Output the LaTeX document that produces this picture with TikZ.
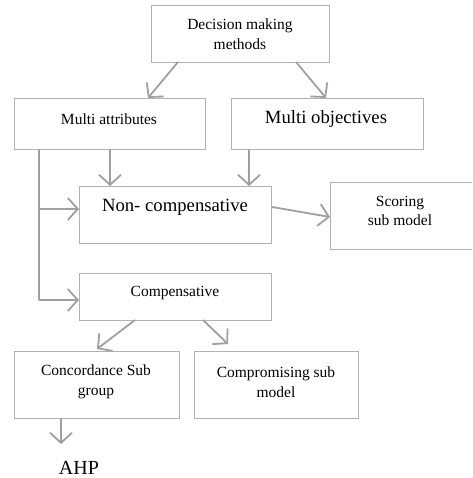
\documentclass[tikz,border=0pt]{standalone}
\usepackage{fontspec}
\setmainfont{Liberation Serif}
\usetikzlibrary{arrows.meta}
\definecolor{boxline}{RGB}{178,178,178}
\definecolor{arrowline}{RGB}{160,160,160}
\tikzset{
  box/.style={draw=boxline, line width=1pt, rectangle, inner sep=0pt, anchor=north west},
  txt/.style={font=\fontsize{15.5}{19.5}\selectfont, align=center, inner sep=0pt},
  txtbig/.style={font=\fontsize{18.7}{22}\selectfont, align=center, inner sep=0pt},
  link/.style={draw=arrowline, line width=1.8pt, -{Straight Barb[length=10pt,width=22pt,line width=1.8pt]}},
  plain/.style={draw=arrowline, line width=1.8pt},
}
\begin{document}
\begin{tikzpicture}[x=1pt,y=-1pt]
\clip (0,0) rectangle (472,478);
\fill[white] (0,0) rectangle (472,478);

% boxes
\node[box, minimum width=178pt, minimum height=57pt] (dm) at (151,5) {};
\node[box, minimum width=191pt, minimum height=51pt] (ma) at (14,98) {};
\node[box, minimum width=192pt, minimum height=51pt] (mo) at (231,98) {};
\node[box, minimum width=192pt, minimum height=57pt] (nc) at (79,186) {};
\node[box, minimum width=160pt, minimum height=67pt] (sc) at (330,182) {};
\node[box, minimum width=192pt, minimum height=47pt] (cp) at (79,273) {};
\node[box, minimum width=165pt, minimum height=67pt] (cg) at (14,351) {};
\node[box, minimum width=164pt, minimum height=67pt] (cm) at (194,351) {};

% labels
\node[txt] (dmt) at (240,34) {Decision making\\methods};
\node[txt] (mat) at (109,119) {Multi attributes};
\node[txtbig] (mot) at (326,119) {Multi objectives};
\node[txtbig] (nct) at (175,207) {Non- compensative};
\node[txt] (sct) at (400,211) {Scoring\\sub model};
\node[txt] (cpt) at (175,293) {Compensative};
\node[txt] (cgt) at (96,382) {Concordance Sub\\group};
\node[txt] (cmt) at (276,382) {Compromising sub\\model};
\node[font=\fontsize{20}{24}\selectfont, inner sep=0pt] (ahp) at (79,468) {AHP};

% connectors
\coordinate (j1) at (39,149);
\coordinate (j2) at (39,209);
\coordinate (j3) at (39,300);
\draw[link] (178,62) -- (148,98);
\draw[link] (296,62) -- (326,98);
\draw[link] (110,149) -- (110,186);
\draw[link] (249,149) -- (249,186);
\draw[plain] (j1) -- (j3);
\draw[link] (j2) -- (79,209);
\draw[link] (j3) -- (79,300);
\draw[link] (272,207) -- (330,217);
\draw[link] (135,320) -- (97,349);
\draw[link] (203,320) -- (228,344);
\draw[link] (61,418) -- (61,444);
\end{tikzpicture}
\end{document}
